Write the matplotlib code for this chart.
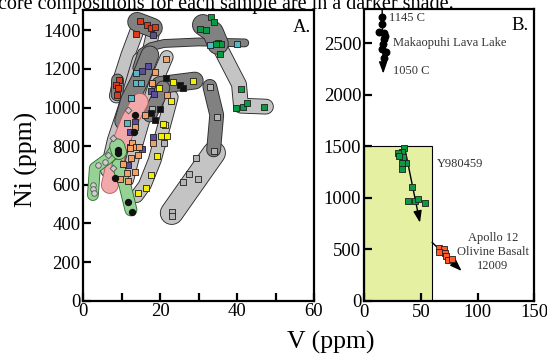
import matplotlib
matplotlib.use("Agg")
import matplotlib.pyplot as plt
import matplotlib.patheffects as pe
from matplotlib.patches import Rectangle
from matplotlib.ticker import MultipleLocator

plt.rcParams["font.family"] = ["Liberation Serif", "DejaVu Serif"]

# ── Panel A: sample fields (V ppm, Ni ppm centre lines) ──
light_fields = [
    ([14.2, 11.6, 9.5, 8.6], [1411, 1273, 1143, 1060]),
    ([18.1, 16.8, 14.2, 11.6], [1386, 1273, 1143, 988]),
    ([14.7, 11.0, 8.2, 6.4], [1247, 1000, 832, 677]),
    ([17.5, 15.5, 13.5, 12.0], [1150, 1000, 850, 700]),
    ([21.7, 18.6, 16.0, 13.4, 11.4], [1262, 1117, 962, 781, 625]),
    ([23.0, 20.7, 18.6, 16.0, 13.9], [1055, 884, 729, 599, 542]),
    ([33.5, 40.5, 41.0, 47.5], [1390, 1120, 1010, 1005]),
    ([34.0, 23.0], [765, 454]),
]
light_widths = [13, 12, 14, 11, 12, 12, 14, 22]

dark_fields = [
    ([14.0, 18.1], [1444, 1413]),
    ([8.9, 8.8], [1143, 1066]),
    ([13.9, 15.2, 17.5, 21.0, 30.0, 42.0], [1205, 1285, 1315, 1332, 1340, 1335]),
    ([17.3, 14.7, 12.1, 10.5], [1273, 1143, 1040, 930]),
    ([19.9, 29.0], [1117, 1140]),
    ([20.7, 17.3], [1102, 962]),
    ([31.1, 33.7, 35.0], [1428, 1392, 1330]),
    ([32.9, 34.7, 33.9], [1110, 962, 781]),
]
dark_widths = [18, 11, 7, 17, 16, 13, 20, 13]

pink_field = ([6.9, 9.0, 12.1, 14.7], [599, 781, 936, 1030])
green_fields = [
    ([2.5, 3.0, 6.9, 9.0], [547, 687, 744, 806]),
    ([9.0, 10.8, 12.4], [703, 599, 470]),
    ([8.8, 9.3], [800, 770]),
]
green_widths = [10, 11, 14]

# ── Panel A: sample points ──
red_v = [14.75, 16.6, 17.6, 18.6, 13.6, 9.35, 8.5, 9.1, 8.7]
red_ni = [1449, 1428, 1411, 1419, 1380, 1143, 1117, 1100, 1066]
purple_v = [18.2, 16.8, 15.3, 17.6, 18.3, 13.4, 12.1, 15.3, 11.7, 18.1]
purple_ni = [1376, 1217, 1190, 1087, 1071, 928, 876, 784, 703, 850]
cyan_v = [13.6, 13.6, 15.0, 12.3, 11.3, 12.1, 32.9, 40.1]
cyan_ni = [1181, 1126, 1126, 1050, 922, 798, 1325, 1328]
gray_v = [32.9, 34.9, 34.0, 29.3, 27.5, 26.0, 29.9, 23.1, 23.0, 17.9, 17.8, 21.0]
gray_ni = [1105, 950, 775, 741, 656, 613, 630, 458, 440, 1129, 993, 818]
black_v = [21.4, 25.1, 25.9, 19.9, 18.6, 17.6]
black_ni = [1152, 1117, 1102, 991, 936, 971]
blackdot_v = [13.4, 13.2, 9.1, 9.1, 8.2, 11.7, 12.6]
blackdot_ni = [962, 875, 781, 763, 634, 510, 458]
yellow_v = [23.3, 28.6, 19.7, 22.9, 21.2, 20.3, 21.7, 19.1, 17.6, 16.3, 14.3, 20.8]
yellow_ni = [1131, 1138, 1102, 1036, 910, 853, 853, 751, 651, 586, 560, 915]
orange_v = [21.6, 18.6, 17.8, 16.0, 13.4, 12.7, 13.6, 14.3, 12.1, 10.3, 11.4,
            13.4, 9.5, 11.6, 21.7, 18.2, 14.5, 12.4]
orange_ni = [1250, 1183, 1129, 962, 901, 815, 797, 755, 789, 708, 661,
             666, 630, 620, 1066, 815, 795, 738]
grayring_v = [2.5, 2.5, 2.7, 3.9, 5.6]
grayring_ni = [599, 577, 557, 703, 720]
diamond_v = [7.8, 6.5, 7.8, 11.7]
diamond_ni = [841, 755, 686, 988]
green_v = [33.3, 34.0, 30.3, 31.9, 35.1, 35.9, 34.5, 35.5, 41.0, 39.8, 41.6, 42.6, 47.0]
green_ni = [1468, 1442, 1407, 1402, 1333, 1330, 1328, 1276, 1095, 1000, 1005, 1023, 1005]

# ── Panel B data ──
mak_v = [15.5, 16.1, 13.2, 17.9, 18.8, 17.9, 17.0, 15.5, 19.1, 17.9]
mak_ni = [2755, 2684, 2610, 2604, 2571, 2539, 2497, 2449, 2416, 2358]
y98_v = [35.2, 33.2, 30.2, 34.6, 31.1, 37.0, 33.2, 33.4, 42.0, 38.7, 44.9, 47.5, 53.7]
y98_ni = [1486, 1447, 1431, 1398, 1405, 1340, 1334, 1276, 1102, 972, 972, 988, 947]
apollo_v = [66.0, 70.7, 66.0, 71.3, 71.9, 74.3, 77.8]
apollo_ni = [511, 501, 472, 468, 439, 397, 407]
mak_trend = ([16, 17], [2830, 2206])
y98_trend = ([36, 49.3], [1480, 760])
apollo_trend = ([60, 86], [569, 291])
box_v, box_ni = 60, 1500

fig = plt.figure(figsize=(5.47, 3.60), dpi=100)
axA = fig.add_axes([0.1523, 0.1647, 0.4217, 0.8073])
axB = fig.add_axes([0.6654, 0.1639, 0.3114, 0.8103])

PX = 0.72  # points per pixel


def band(ax, v, ni, width_px, fill, edge="#2a2a2a", z=1):
    w = width_px * PX
    ax.plot(v, ni, color=fill, lw=w, solid_capstyle="round",
            solid_joinstyle="round", zorder=z,
            path_effects=[pe.Stroke(linewidth=w + 1.3, foreground=edge,
                                    capstyle="round", joinstyle="round"),
                          pe.Normal()])


for (v, ni), w in zip(light_fields, light_widths):
    band(axA, v, ni, w, "#c4c4c4", z=1)
for (v, ni), w in zip(dark_fields, dark_widths):
    band(axA, v, ni, w, "#818181", z=2)
band(axA, pink_field[0], pink_field[1], 16, "#f2a9ab", edge="#c0585c", z=2.5)
for (v, ni), w in zip(green_fields, green_widths):
    band(axA, v, ni, w, "#96d296", edge="#2f6f2f", z=2.6)

sq = dict(marker="s", s=17, edgecolors="#1e1e1e", linewidths=0.6, zorder=4)
axA.scatter(red_v, red_ni, c="#dd3a1c", **sq)
axA.scatter(purple_v, purple_ni, c="#5a4e9e", **sq)
axA.scatter(cyan_v, cyan_ni, c="#55b9c6", **sq)
axA.scatter(gray_v, gray_ni, c="#b4b4b4", **sq)
axA.scatter(black_v, black_ni, c="#111111", **sq)
axA.scatter(yellow_v, yellow_ni, c="#f2f000", **sq)
axA.scatter(orange_v, orange_ni, c="#f5a066", **sq)
axA.scatter(green_v, green_ni, c="#0a9a44", **sq)
axA.scatter(blackdot_v, blackdot_ni, marker="o", s=18, c="#111111", zorder=4)
axA.scatter(grayring_v, grayring_ni, marker="o", s=16, c="#cfcfcf",
            edgecolors="#555555", linewidths=0.6, zorder=4)
axA.scatter(diamond_v, diamond_ni, marker="D", s=12, c="#c8c8c8",
            edgecolors="#555555", linewidths=0.6, zorder=4)

axA.set_xlim(0, 60)
axA.set_ylim(0, 1505)
axA.xaxis.set_major_locator(MultipleLocator(20))
axA.xaxis.set_minor_locator(MultipleLocator(10))
axA.yaxis.set_major_locator(MultipleLocator(200))
axA.text(0.946, 0.94, "A.", transform=axA.transAxes, ha="center", va="center",
         fontsize=13.5)

# ── Panel B ──
axB.add_patch(Rectangle((0, 0), box_v, box_ni, facecolor="#e6f0a2",
                        edgecolor="black", lw=0.8, zorder=1))

arrow_kw = dict(arrowstyle="-|>,head_length=0.7,head_width=0.25", color="black",
                lw=1.0, shrinkA=0, shrinkB=0)
for tv, tn in (mak_trend, y98_trend, apollo_trend):
    axB.annotate("", xy=(tv[1], tn[1]), xytext=(tv[0], tn[0]),
                 arrowprops=arrow_kw, zorder=2, annotation_clip=False)

axB.scatter(mak_v, mak_ni, marker="o", s=22, c="black", zorder=3)
axB.scatter(y98_v, y98_ni, marker="s", s=24, c="#0a9a44",
            edgecolors="#1e1e1e", linewidths=0.6, zorder=3)
axB.scatter(apollo_v, apollo_ni, marker="s", s=24, c="#ff5a28",
            edgecolors="#1e1e1e", linewidths=0.6, zorder=3)

lab = dict(fontsize=9, color="#333333", va="center")
axB.text(22, 2742, "1145 C", ha="left", **lab)
axB.text(25.3, 2500, "Makaopuhi Lava Lake", ha="left", **lab)
axB.text(25.5, 2232, "1050 C", ha="left", **lab)
axB.text(64, 1327, "Y980459", ha="left", **lab)
axB.text(113.5, 478, "Apollo 12\nOlivine Basalt\n12009", ha="center",
         linespacing=1.2, **lab)
axB.text(0.916, 0.946, "B.", transform=axB.transAxes, ha="center", va="center",
         fontsize=13.5)

axB.set_xlim(0, 150)
axB.set_ylim(0, 2830)
axB.xaxis.set_major_locator(MultipleLocator(50))
axB.yaxis.set_major_locator(MultipleLocator(500))

for ax in (axA, axB):
    for s in ax.spines.values():
        s.set_linewidth(1.6)
    ax.tick_params(which="both", direction="in", length=6, width=1.6,
                   labelsize=13.5, pad=2, top=False, right=False)

fig.text(-0.004, 0.975, "core compositions for each sample are in a darker shade.",
         ha="left", va="baseline", fontsize=14.5)
fig.text(0.048, 0.556, "Ni (ppm)", rotation=90, ha="center", va="center",
         fontsize=18.5)
fig.text(0.605, 0.05, "V (ppm)", ha="center", va="center", fontsize=18.5)

fig.savefig("out.png", dpi=100)
